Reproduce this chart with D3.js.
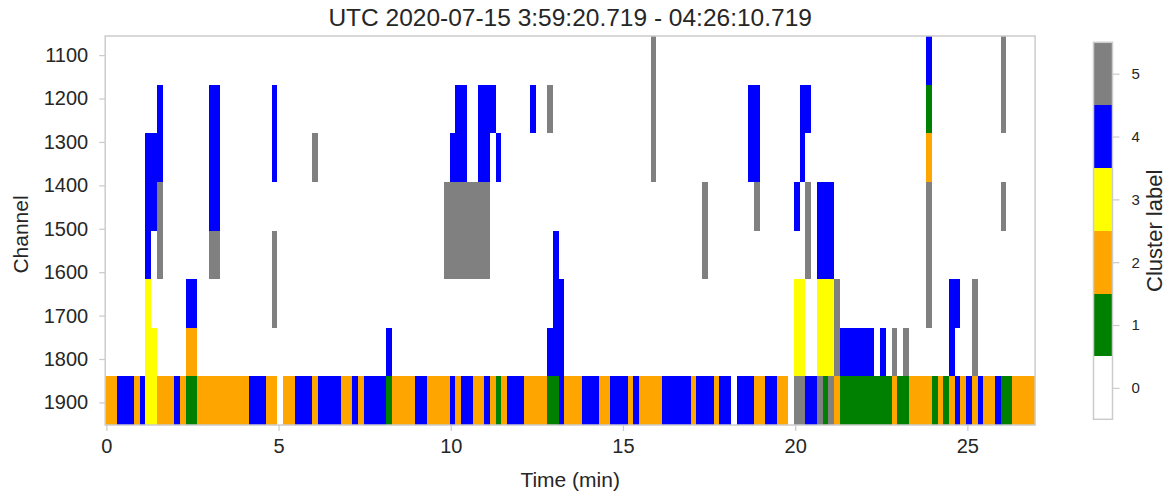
<!DOCTYPE html>
<html>
<head>
<meta charset="utf-8">
<script src="https://cdn.jsdelivr.net/npm/d3@7/dist/d3.min.js"></script>
<style>
  html, body { margin: 0; padding: 0; background: #fff; }
  svg { display: block; }
  text { font-family: "Liberation Sans", Arial, sans-serif; fill: #262626; }
</style>
</head>
<body>
<svg id="chart" width="1172" height="494"></svg>
<script>
// Time bins: 10 s wide, first bin edge 2 s before the window start
const binMinutes = 1 / 6;
const firstBinEdge = -1 / 30;
const binCount = 162;

// Channel band edges (top band first)
const channelEdges = [1056, 1168, 1280, 1392, 1504, 1616, 1728, 1840, 1952];

// Cluster labels and their colours
const clusterLabels = [0, 1, 2, 3, 4, 5];
const clusterColors = ["#ffffff", "#008000", "#ffa500", "#ffff00", "#0000ff", "#808080"];

const xTickValues = [0, 5, 10, 15, 20, 25];
const yTickValues = [1100, 1200, 1300, 1400, 1500, 1600, 1700, 1800, 1900];

// Runs of identical cluster label per channel band: [firstBin, lastBin, label]
const band1056 = [[95, 95, 5], [143, 143, 4], [156, 156, 5]];
const band1168 = [[9, 9, 4], [18, 19, 4], [29, 29, 4], [61, 62, 4], [65, 67, 4], [74, 74, 4], [77, 77, 5],
  [95, 95, 5], [112, 113, 4], [121, 122, 4], [143, 143, 1], [156, 156, 5]];
const band1280 = [[7, 9, 4], [18, 19, 4], [29, 29, 4], [36, 36, 5], [60, 62, 4], [65, 66, 4], [68, 68, 4],
  [95, 95, 5], [112, 113, 4], [121, 121, 4], [143, 143, 2]];
const band1392 = [[7, 8, 4], [9, 9, 5], [18, 19, 4], [59, 66, 5], [104, 104, 5], [113, 113, 5], [120, 120, 4],
  [122, 122, 5], [124, 126, 4], [143, 143, 5], [156, 156, 5]];
const band1504 = [[7, 7, 4], [9, 9, 5], [18, 19, 5], [29, 29, 5], [59, 66, 5], [78, 78, 4], [104, 104, 5],
  [122, 122, 5], [124, 126, 4], [143, 143, 5]];
const band1616 = [[7, 7, 3], [14, 15, 4], [29, 29, 5], [78, 79, 4], [120, 121, 3], [124, 126, 3], [127, 127, 5],
  [143, 143, 5], [147, 148, 4], [151, 151, 5]];
const band1728 = [[7, 8, 3], [14, 15, 2], [49, 49, 4], [77, 79, 4], [120, 121, 3], [124, 126, 3], [127, 127, 5],
  [128, 133, 4], [135, 135, 4], [137, 137, 5], [139, 139, 5], [147, 147, 4], [151, 151, 5]];
const band1840 = [[0, 1, 2], [2, 4, 4], [5, 5, 2], [6, 6, 4], [7, 8, 3], [9, 11, 2], [12, 12, 4], [13, 13, 2],
  [14, 15, 1], [16, 24, 2], [25, 27, 4], [28, 29, 2], [31, 32, 2], [33, 35, 4], [36, 36, 2], [37, 40, 4],
  [41, 42, 2], [43, 43, 4], [44, 44, 2], [45, 48, 4], [49, 49, 1], [50, 53, 2], [54, 55, 4], [56, 59, 2],
  [60, 60, 4], [61, 61, 2], [62, 63, 4], [64, 65, 2], [66, 66, 4], [67, 67, 2], [68, 68, 1], [69, 69, 2],
  [70, 72, 4], [73, 76, 2], [77, 78, 1], [79, 79, 4], [80, 82, 2], [83, 85, 4], [86, 87, 2], [88, 90, 4],
  [91, 91, 2], [92, 92, 4], [93, 96, 2], [97, 101, 4], [102, 102, 2], [103, 105, 4], [106, 106, 2],
  [107, 108, 4], [110, 112, 4], [113, 114, 2], [115, 116, 4], [117, 118, 2], [120, 121, 5], [122, 123, 4],
  [124, 124, 5], [125, 125, 1], [126, 126, 5], [127, 127, 2], [128, 136, 1], [137, 137, 2], [138, 139, 1],
  [140, 143, 2], [144, 144, 1], [145, 145, 2], [146, 146, 1], [147, 147, 2], [148, 148, 4], [149, 149, 2],
  [150, 150, 4], [151, 151, 2], [152, 152, 4], [153, 154, 2], [155, 155, 4], [156, 157, 1], [158, 161, 2]];

const bandRuns = [band1056, band1168, band1280, band1392, band1504, band1616, band1728, band1840];

const svg = d3.select("#chart");
const frame = { left: 105.2, right: 1035.1, top: 36, bottom: 425 };
const axisGrey = "#cccccc";
const font = "'Liberation Sans', Arial, sans-serif";

const x = d3.scaleLinear()
  .domain([firstBinEdge, firstBinEdge + binCount * binMinutes])
  .range([frame.left, frame.right]);
const y = d3.scaleLinear()
  .domain([channelEdges[0], channelEdges[channelEdges.length - 1]])
  .range([frame.top, frame.bottom]);
const color = d3.scaleOrdinal().domain(clusterLabels).range(clusterColors);

// Cells, one rect per run of equal labels
const cells = [];
bandRuns.forEach((runs, band) => {
  runs.forEach(([first, last, label]) => {
    cells.push({ band, first, last, label });
  });
});

svg.append("g")
  .selectAll("rect")
  .data(cells)
  .join("rect")
  .attr("x", d => x(firstBinEdge + d.first * binMinutes))
  .attr("width", d => x(firstBinEdge + (d.last + 1) * binMinutes) - x(firstBinEdge + d.first * binMinutes))
  .attr("y", d => y(channelEdges[d.band]))
  .attr("height", d => y(channelEdges[d.band + 1]) - y(channelEdges[d.band]))
  .attr("fill", d => color(d.label))
  .attr("shape-rendering", "crispEdges");

// Axes
const xAxis = svg.append("g")
  .attr("transform", `translate(0,${frame.bottom})`)
  .call(d3.axisBottom(x).tickValues(xTickValues).tickSize(6).tickPadding(8).tickFormat(d3.format("d")));
const yAxis = svg.append("g")
  .attr("transform", `translate(${frame.left},0)`)
  .call(d3.axisLeft(y).tickValues(yTickValues).tickSize(6).tickPadding(11).tickFormat(d3.format("d")));

[xAxis, yAxis].forEach(g => {
  g.select(".domain").remove();
  g.selectAll(".tick line").attr("stroke", axisGrey).attr("stroke-width", 1.25);
  g.selectAll(".tick text")
    .attr("fill", "#262626")
    .style("font-size", "20px")
    .style("font-family", font);
});

// Frame
svg.append("rect")
  .attr("x", frame.left).attr("y", frame.top)
  .attr("width", frame.right - frame.left).attr("height", frame.bottom - frame.top)
  .attr("fill", "none").attr("stroke", axisGrey).attr("stroke-width", 1.5);

// Titles
svg.append("text")
  .attr("x", (frame.left + frame.right) / 2).attr("y", 26)
  .attr("text-anchor", "middle").style("font-size", "24.5px")
  .text("UTC 2020-07-15 3:59:20.719 - 04:26:10.719");

svg.append("text")
  .attr("x", (frame.left + frame.right) / 2).attr("y", 487)
  .attr("text-anchor", "middle").style("font-size", "21px")
  .text("Time (min)");

svg.append("text")
  .attr("transform", `translate(28,${(frame.top + frame.bottom) / 2 + 4}) rotate(-90)`)
  .attr("text-anchor", "middle").style("font-size", "21px")
  .text("Channel");

// Colour bar
const bar = { left: 1093.5, right: 1112.5, top: 42.3, bottom: 419.3 };
const cb = d3.scaleLinear()
  .domain([-0.5, clusterLabels.length - 0.5])
  .range([bar.bottom, bar.top]);

svg.append("g")
  .selectAll("rect")
  .data(clusterLabels)
  .join("rect")
  .attr("x", bar.left)
  .attr("width", bar.right - bar.left)
  .attr("y", d => cb(d + 0.5))
  .attr("height", d => cb(d - 0.5) - cb(d + 0.5))
  .attr("fill", d => color(d))
  .attr("shape-rendering", "crispEdges");

svg.append("rect")
  .attr("x", bar.left).attr("y", bar.top)
  .attr("width", bar.right - bar.left).attr("height", bar.bottom - bar.top)
  .attr("fill", "none").attr("stroke", axisGrey).attr("stroke-width", 1.5);

const cAxis = svg.append("g")
  .attr("transform", `translate(${bar.right},0)`)
  .call(d3.axisRight(cb).tickValues(clusterLabels).tickSize(7).tickPadding(12).tickFormat(d3.format("d")));
cAxis.select(".domain").remove();
cAxis.selectAll(".tick line").attr("stroke", axisGrey).attr("stroke-width", 1.25);
cAxis.selectAll(".tick text")
  .attr("fill", "#262626")
  .style("font-size", "15px")
  .style("font-family", font);

svg.append("text")
  .attr("transform", `translate(1162,${(bar.top + bar.bottom) / 2}) rotate(-90)`)
  .attr("text-anchor", "middle").style("font-size", "22px")
  .text("Cluster label");
</script>
</body>
</html>
